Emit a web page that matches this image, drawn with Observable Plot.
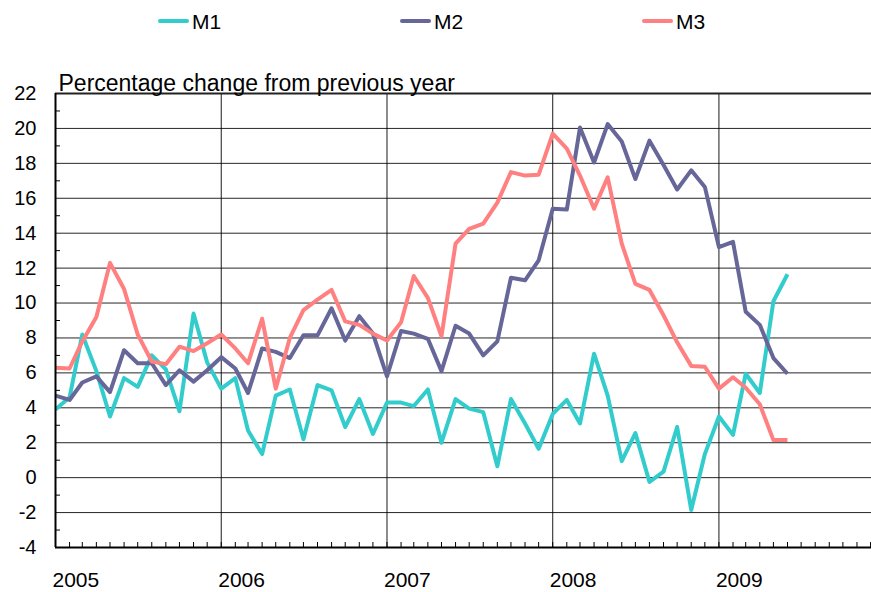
<!DOCTYPE html>
<html><head><meta charset="utf-8">
<script src="https://cdn.jsdelivr.net/npm/d3@7"></script>
<script src="https://cdn.jsdelivr.net/npm/@observablehq/plot@0.6"></script>
<style>
body{margin:0;background:#fff;font-family:"Liberation Sans",Arial,sans-serif;}
#wrap{position:relative;width:871px;height:592px;overflow:hidden;}
#legend{position:relative;height:40px;}
.item{position:absolute;top:0;height:40px;}
.sw{position:absolute;left:0;top:19px;width:31px;height:4px;border-radius:2px;}
.lab{position:absolute;left:34px;top:10px;font-size:21px;line-height:24px;color:#000;white-space:nowrap;}
</style></head>
<body><div id="wrap"><div id="legend"></div><div id="chart"></div></div>
<script>
const seriesNames = ["M1", "M2", "M3"];
const seriesColors = ["#33CCCC", "#666699", "#FF8080"];
const yTicks = [-4, -2, 0, 2, 4, 6, 8, 10, 12, 14, 16, 18, 20, 22];
const yMinorTicks = [-3, -1, 1, 3, 5, 7, 9, 11, 13, 15, 17, 19, 21];
const yearLabels = ["2005", "2006", "2007", "2008", "2009"];
const titleText = "Percentage change from previous year";

const m1 = [3.9, 4.6, 8.2, 6.1, 3.5, 5.7, 5.2, 7.0, 6.2, 3.8, 9.4, 6.6,
            5.1, 5.7, 2.7, 1.35, 4.7, 5.05, 2.2, 5.3, 5.0, 2.9, 4.5, 2.5,
            4.3, 4.3, 4.1, 5.05, 2.0, 4.5, 3.95, 3.75, 0.65, 4.5, 3.1, 1.65,
            3.65, 4.45, 3.1, 7.1, 4.7, 0.95, 2.55, -0.25, 0.35, 2.9, -1.85, 1.35,
            3.5, 2.45, 5.95, 4.85, 10.1, 11.65];
const m2 = [4.7, 4.45, 5.45, 5.8, 4.9, 7.3, 6.55, 6.55, 5.3, 6.15, 5.5, 6.15,
            6.9, 6.25, 4.85, 7.4, 7.2, 6.85, 8.15, 8.15, 9.7, 7.85, 9.25, 8.25,
            5.8, 8.4, 8.25, 7.95, 6.1, 8.7, 8.25, 7.0, 7.8, 11.45, 11.3, 12.45,
            15.4, 15.35, 20.05, 18.05, 20.25, 19.25, 17.1, 19.3, 17.9, 16.5, 17.6, 16.65,
            13.2, 13.5, 9.5, 8.75, 6.85, 5.95];
const m3 = [6.3, 6.25, 7.8, 9.2, 12.3, 10.8, 8.2, 6.65, 6.5, 7.5, 7.25, 7.7,
            8.2, 7.4, 6.55, 9.1, 5.1, 8.0, 9.6, 10.2, 10.75, 8.95, 8.75, 8.25,
            7.85, 8.9, 11.55, 10.3, 8.1, 13.4, 14.25, 14.55, 15.75, 17.5, 17.3, 17.35,
            19.7, 18.85, 17.3, 15.4, 17.2, 13.4, 11.1, 10.75, 9.3, 7.75, 6.4, 6.35,
            5.1, 5.75, 5.15, 4.2, 2.15, 2.15];
const seriesValues = [m1, m2, m3];

const startDate = new Date(Date.UTC(2005, 0, 1));
const months = d3.utcMonth.range(startDate, new Date(Date.UTC(2009, 6, 1)));
const xEnd = new Date(Date.UTC(2009, 11, 3));
const yearDates = yearLabels.map(y => new Date(Date.UTC(+y, 0, 1)));
const monthTicks = d3.utcMonth.range(startDate, xEnd);

const rows = [];
seriesNames.forEach((s, i) => seriesValues[i].forEach((v, k) => rows.push({series: s, date: months[k], value: v})));

// legend
const legend = document.getElementById("legend");
const legendLeft = [158, 400, 642];
seriesNames.forEach((s, i) => {
  const it = document.createElement("div");
  it.className = "item";
  it.style.left = legendLeft[i] + "px";
  it.innerHTML = `<div class="sw" style="background:${seriesColors[i]}"></div><div class="lab">${s}</div>`;
  legend.appendChild(it);
});

const chart = Plot.plot({
  width: 871,
  height: 552,
  marginLeft: 55,
  marginRight: 0,
  marginTop: 53,
  marginBottom: 45,
  style: {fontFamily: "'Liberation Sans', Arial, sans-serif", background: "#fff", overflow: "visible"},
  x: {type: "utc", domain: [startDate, xEnd]},
  y: {domain: [-4, 22]},
  color: {domain: seriesNames, range: seriesColors},
  marks: [
    Plot.gridY(yTicks.filter(d => d > -4 && d < 22), {stroke: "#000", strokeOpacity: 0.85, strokeWidth: 1}),
    Plot.gridX(yearDates.slice(1), {stroke: "#000", strokeOpacity: 0.9, strokeWidth: 1}),
    Plot.ruleY([22], {stroke: "#222", strokeWidth: 2}),
    Plot.axisY(yMinorTicks, {tickSize: 5, dx: 5, tickFormat: () => "", label: null, stroke: "#000"}),
    Plot.axisX(monthTicks, {tickSize: 5, dy: -5, tickFormat: () => "", label: null, stroke: "#000"}),
    Plot.axisY(yTicks, {tickSize: 0, tickPadding: 19, fontSize: 20, label: null, fill: "#000", tickFormat: d => String(d)}),
    Plot.axisX(yearDates, {tickSize: 0, tickPadding: 25, fontSize: 21, textAnchor: "start", dx: -3, tickFormat: d3.utcFormat("%Y"), label: null, fill: "#000"}),
    Plot.line(rows, {x: "date", y: "value", z: "series", stroke: "series", strokeWidth: 4, strokeLinejoin: "round", strokeLinecap: "butt"}),
    Plot.ruleY([-4], {stroke: "#000", strokeWidth: 2}),
    Plot.ruleX([startDate], {stroke: "#000", strokeWidth: 2}),
    Plot.text([titleText], {frameAnchor: "top-left", textAnchor: "start", lineAnchor: "bottom", dx: 3, dy: -3, fontSize: 23, fill: "#000"})
  ]
});
document.getElementById("chart").appendChild(chart);
</script>
</body></html>
